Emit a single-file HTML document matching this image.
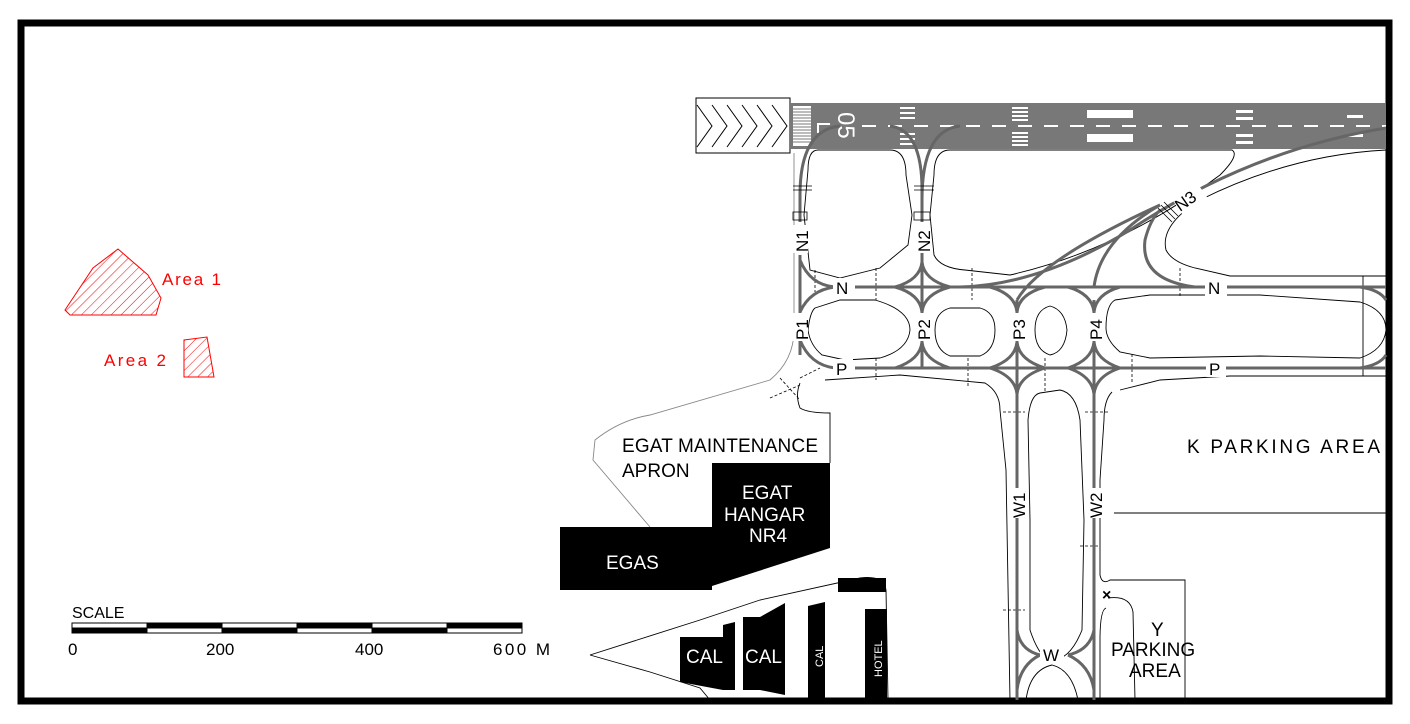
<!DOCTYPE html>
<html><head><meta charset="utf-8"><style>
html,body{margin:0;padding:0;background:#fff;}
svg{display:block;font-family:"Liberation Sans",sans-serif;}
</style></head><body>
<svg width="1410" height="724" viewBox="0 0 1410 724" xmlns="http://www.w3.org/2000/svg">
<defs>
<pattern id="h" width="7" height="7" patternUnits="userSpaceOnUse" patternTransform="rotate(45)">
<line x1="0" y1="0" x2="0" y2="7" stroke="#f00" stroke-width="1"/>
</pattern>
</defs>
<rect x="0" y="0" width="1410" height="724" fill="#fff"/>
<rect x="21" y="23" width="1368" height="678" fill="none" stroke="#000" stroke-width="7"/>

<polygon points="65,310 93,268 118,249 148,275 161,298 156,315 70,315" fill="url(#h)" stroke="#f00" stroke-width="1"/>
<polygon points="184,340 207,337 214,377 184,377" fill="url(#h)" stroke="#f00" stroke-width="1"/>
<text x="162" y="285" font-size="17" fill="#f00" textLength="59" lengthAdjust="spacing">Area 1</text>
<text x="104" y="366" font-size="17" fill="#f00" textLength="62" lengthAdjust="spacing">Area 2</text>

<text x="72" y="618" font-size="16">SCALE</text>
<g stroke="#000" stroke-width="1">
<rect x="72" y="623" width="450" height="10" fill="#fff"/>
<rect x="147" y="623" width="75" height="5" fill="#000"/>
<rect x="297" y="623" width="75" height="5" fill="#000"/>
<rect x="447" y="623" width="75" height="5" fill="#000"/>
<rect x="72" y="628" width="75" height="5" fill="#000"/>
<rect x="222" y="628" width="75" height="5" fill="#000"/>
<rect x="372" y="628" width="75" height="5" fill="#000"/>
</g>
<text x="68" y="655" font-size="17">0</text>
<text x="206" y="655" font-size="17">200</text>
<text x="355" y="655" font-size="17">400</text>
<text x="493" y="655" font-size="17" textLength="57" lengthAdjust="spacing">600 M</text>

<rect x="696" y="98" width="94" height="55" fill="#fff" stroke="#000" stroke-width="1"/>
<g fill="none" stroke="#000" stroke-width="1">
<path d="M697,105 L712,126 L697,147"/><path d="M712,105 L727,126 L712,147"/><path d="M727,105 L742,126 L727,147"/><path d="M742,105 L757,126 L742,147"/><path d="M757,105 L772,126 L757,147"/><path d="M772,105 L787,126 L772,147"/>
</g>
<rect x="790" y="103" width="596" height="46" fill="#787878"/>
<rect x="793" y="106" width="18" height="40" fill="#fff"/>
<g stroke="#787878" stroke-width="1">
<line x1="793" y1="109" x2="811" y2="109"/><line x1="793" y1="112" x2="811" y2="112"/><line x1="793" y1="115" x2="811" y2="115"/><line x1="793" y1="118" x2="811" y2="118"/><line x1="793" y1="121" x2="811" y2="121"/><line x1="793" y1="124" x2="811" y2="124"/><line x1="793" y1="127" x2="811" y2="127"/><line x1="793" y1="130" x2="811" y2="130"/><line x1="793" y1="133" x2="811" y2="133"/><line x1="793" y1="136" x2="811" y2="136"/><line x1="793" y1="139" x2="811" y2="139"/><line x1="793" y1="142" x2="811" y2="142"/>
</g>
<path d="M818,133 L818,124 L830,124" stroke="#fff" stroke-width="2" fill="none"/>
<text x="0" y="0" font-size="24" fill="#fff" transform="translate(838,112) rotate(90)">05</text>
<line x1="862" y1="126" x2="1386" y2="126" stroke="#fff" stroke-width="2" stroke-dasharray="14,12"/>
<g fill="#fff">
<rect x="900" y="107" width="15" height="2"/><rect x="900" y="112" width="15" height="2"/><rect x="900" y="117" width="15" height="2"/>
<rect x="900" y="133" width="15" height="2"/><rect x="900" y="138" width="15" height="2"/><rect x="900" y="143" width="15" height="2"/>
<rect x="1012" y="107" width="16" height="2"/><rect x="1012" y="111" width="16" height="2"/><rect x="1012" y="115" width="16" height="2"/><rect x="1012" y="119" width="16" height="2"/>
<rect x="1012" y="132" width="16" height="2"/><rect x="1012" y="136" width="16" height="2"/><rect x="1012" y="140" width="16" height="2"/><rect x="1012" y="144" width="16" height="2"/>
<rect x="1087" y="110" width="46" height="8"/><rect x="1087" y="134" width="46" height="8"/>
<rect x="1236" y="110" width="17" height="3"/><rect x="1236" y="117" width="17" height="3"/>
<rect x="1236" y="134" width="17" height="3"/><rect x="1236" y="141" width="17" height="3"/>
<rect x="1347" y="115" width="16" height="3"/><rect x="1347" y="134" width="16" height="3"/>
</g>

<g fill="none" stroke="#000" stroke-width="0.9">
<path d="M794,153 L794,330 Q794,360 770,380 L650,415 Q620,420 595,440 L593,460 L650,527" stroke="#888"/>
<path d="M818,150 Q808,150 808,170 L804,215 L810,270 L840,278 L880,268 L908,245 L912,215 L906,175 Q906,150 890,150 Z"/>
<path d="M950,150 Q934,150 934,175 L930,215 L934,255 Q940,268 965,270 L1010,275 Q1120,250 1220,175 Q1240,155 1232,150 Z"/>
<path d="M1386,150 Q1290,155 1200,200 Q1160,225 1166,250 Q1172,262 1195,268 L1230,276 L1386,276"/>
<path d="M815,308 L840,300 L875,300 Q910,310 910,330 Q908,350 880,358 L845,360 L822,355 Q810,345 808,330 Q810,312 815,308 Z"/>
<path d="M950,308 Q935,312 935,330 Q935,350 950,356 L980,356 Q995,350 995,330 Q995,312 980,308 Z"/>
<path d="M1050,306 Q1035,310 1035,330 Q1035,350 1050,355 Q1065,352 1067,330 Q1065,310 1050,306 Z"/>
<path d="M1115,300 L1150,295 L1260,295 L1360,302 Q1386,310 1386,330 Q1384,350 1360,358 L1260,356 L1150,358 L1120,352 Q1106,340 1106,328 Q1106,305 1115,300 Z"/>
<path d="M800,383 Q795,395 800,408 Q808,413 830,413 L830,463"/>
<path d="M825,380 L900,375 L985,383 Q1000,392 1000,410 L1006,470 L1010,700"/>
<path d="M1040,393 Q1030,395 1028,420 L1030,520 L1030,630 Q1040,660 1052,660 Q1070,660 1082,630 L1084,520 L1080,420 Q1076,393 1060,390 Z"/>
<path d="M1112,392 Q1104,400 1104,420 L1100,480 L1100,575 Q1102,585 1110,580 L1185,580 L1185,700"/>
<path d="M1120,390 L1160,380 L1230,376 L1386,376"/>
<path d="M1114,513 L1386,513"/>
<path d="M1106,608 Q1100,610 1100,640 L1100,700 M1108,598 Q1130,595 1133,612 L1135,700"/>
<path d="M1026,700 Q1030,670 1052,665 Q1072,670 1078,700"/>
<path d="M590,655 L700,620 L760,600 L860,578 Q884,575 886,590 L888,700"/>
<path d="M590,655 L650,672 L700,688 L710,700"/>
<path d="M1363,276 L1363,376"/>
</g>
<g stroke="#000" stroke-width="0.8" stroke-dasharray="3,2" fill="none">
<line x1="815" y1="270" x2="815" y2="292"/>
<line x1="876" y1="268" x2="876" y2="300"/><line x1="876" y1="358" x2="876" y2="380"/>
<line x1="972" y1="268" x2="972" y2="300"/><line x1="968" y1="358" x2="968" y2="387"/>
<line x1="1045" y1="358" x2="1045" y2="392"/>
<line x1="1180" y1="268" x2="1180" y2="296"/><line x1="1132" y1="354" x2="1132" y2="383"/>
<line x1="1003" y1="412" x2="1025" y2="412"/><line x1="1085" y1="412" x2="1110" y2="412"/>
<line x1="1003" y1="610" x2="1025" y2="610"/><line x1="1080" y1="546" x2="1098" y2="546"/>
<path d="M770,398 L800,385 M780,378 L800,400 M800,378 L820,368"/>
</g>

<g fill="none" stroke="#666" stroke-width="3">
<path d="M800,222 L800,195 Q800,130 840,126"/>
<path d="M922,222 L922,190 Q922,130 890,126 M922,200 Q922,130 960,126"/>
<line x1="800" y1="255" x2="800" y2="355"/>
<line x1="855" y1="287" x2="1386" y2="287"/>
<line x1="855" y1="368" x2="1386" y2="368"/>
<line x1="922" y1="250" x2="922" y2="368"/>
<line x1="1017" y1="300" x2="1017" y2="700"/>
<line x1="1094" y1="300" x2="1094" y2="700"/>
<path d="M960,287 Q1040,285 1130,230 Q1250,150 1386,128"/>
<path d="M1017,300 Q1040,260 1160,205"/>
<path d="M1094,287 Q1100,240 1160,205"/>
<path d="M1195,287 Q1140,280 1145,240 Q1150,220 1160,210"/>
<path d="M800,260 Q810,285 835,287 M800,312 Q810,290 835,287"/>
<path d="M800,340 Q810,365 835,368"/>
<path d="M895,287 Q920,280 922,262 M950,287 Q924,280 922,262 M895,287 Q920,294 922,312 M950,287 Q924,294 922,312"/>
<path d="M895,368 Q920,360 922,342 M950,368 Q924,360 922,342"/>
<path d="M990,287 Q1015,294 1017,312 M1045,287 Q1019,294 1017,312 M1068,287 Q1092,294 1094,312 M1120,287 Q1096,294 1094,312"/>
<path d="M990,368 Q1015,360 1017,342 M1045,368 Q1019,360 1017,342 M1068,368 Q1092,360 1094,342 M1120,368 Q1096,360 1094,342"/>
<path d="M990,368 Q1015,376 1017,394 M1045,368 Q1019,376 1017,394 M1068,368 Q1092,376 1094,394 M1120,368 Q1096,376 1094,394"/>
<path d="M1017,630 Q1020,650 1040,655 M1094,630 Q1090,650 1068,655 M1017,690 Q1020,665 1040,655 M1094,690 Q1090,665 1068,655"/>
<path d="M1360,287 Q1380,290 1386,300 M1360,368 Q1380,365 1386,355"/>
</g>
<g stroke="#000" stroke-width="0.8" fill="none">
<rect x="793" y="212" width="14" height="8"/><rect x="914" y="212" width="16" height="8"/>
<line x1="793" y1="186" x2="812" y2="186"/><line x1="793" y1="190" x2="812" y2="190"/>
<line x1="914" y1="186" x2="934" y2="186"/><line x1="914" y1="190" x2="934" y2="190"/>
<path d="M1158,208 L1172,222 M1161,205 L1175,219 M1164,202 L1178,216"/>
</g>

<g font-size="17" fill="#000">
<rect x="792" y="225" width="16" height="28" fill="#fff"/>
<text transform="translate(808,252) rotate(-90)">N1</text>
<rect x="914" y="225" width="16" height="28" fill="#fff"/>
<text transform="translate(930,252) rotate(-90)">N2</text>
<rect x="792" y="313" width="16" height="28" fill="#fff"/>
<text transform="translate(808,340) rotate(-90)">P1</text>
<rect x="914" y="313" width="16" height="28" fill="#fff"/>
<text transform="translate(930,340) rotate(-90)">P2</text>
<rect x="1009" y="313" width="16" height="28" fill="#fff"/>
<text transform="translate(1025,340) rotate(-90)">P3</text>
<rect x="1086" y="313" width="16" height="28" fill="#fff"/>
<text transform="translate(1102,340) rotate(-90)">P4</text>
<rect x="1009" y="488" width="16" height="30" fill="#fff"/>
<text transform="translate(1025,518) rotate(-90)">W1</text>
<rect x="1086" y="488" width="16" height="30" fill="#fff"/>
<text transform="translate(1102,518) rotate(-90)">W2</text>
<rect x="1175" y="190" width="30" height="18" fill="#fff" transform="rotate(-35 1190 199)"/>
<text transform="translate(1180,212) rotate(-35)">N3</text>
<rect x="833" y="278" width="20" height="18" fill="#fff"/><text x="836" y="294">N</text>
<rect x="1205" y="278" width="22" height="18" fill="#fff"/><text x="1208" y="294">N</text>
<rect x="833" y="359" width="20" height="18" fill="#fff"/><text x="836" y="375">P</text>
<rect x="1206" y="359" width="20" height="18" fill="#fff"/><text x="1209" y="375">P</text>
<rect x="1040" y="645" width="24" height="18" fill="#fff"/>
<text x="1043" y="661">W</text>
</g>

<polygon points="560,527 712,527 712,590 665,590 560,590" fill="#000"/>
<polygon points="712,463 830,463 830,548 712,586" fill="#000"/>
<polygon points="838,578 886,578 886,592 838,592" fill="#000"/>
<polygon points="680,637 723,637 723,625 735,622 735,690 723,690 680,682" fill="#000"/>
<polygon points="743,617 760,617 785,603 785,695 760,690 743,690" fill="#000"/>
<polygon points="808,606 825,602 825,700 808,700" fill="#000"/>
<rect x="865" y="609" width="22" height="91" fill="#000"/>
<g fill="#fff" font-size="19">
<text x="606" y="569">EGAS</text>
<text x="742" y="499">EGAT</text>
<text x="724" y="521">HANGAR</text>
<text x="749" y="542">NR4</text>
<text x="686" y="663">CAL</text>
<text x="745" y="663">CAL</text>
<text font-size="11" transform="translate(823,667) rotate(-90)">CAL</text>
<text font-size="11" transform="translate(882,677) rotate(-90)">HOTEL</text>
</g>
<g font-size="19" fill="#000">
<text x="622" y="452" textLength="196" lengthAdjust="spacing">EGAT MAINTENANCE</text>
<text x="622" y="477">APRON</text>
<text x="1187" y="453" textLength="193" lengthAdjust="spacing">K PARKING AREA</text>
<text x="1151" y="636">Y</text>
<text x="1111" y="656">PARKING</text>
<text x="1129" y="677">AREA</text>
<text x="1102" y="600" font-size="16" font-weight="bold">×</text>
</g>
</svg>
</body></html>
